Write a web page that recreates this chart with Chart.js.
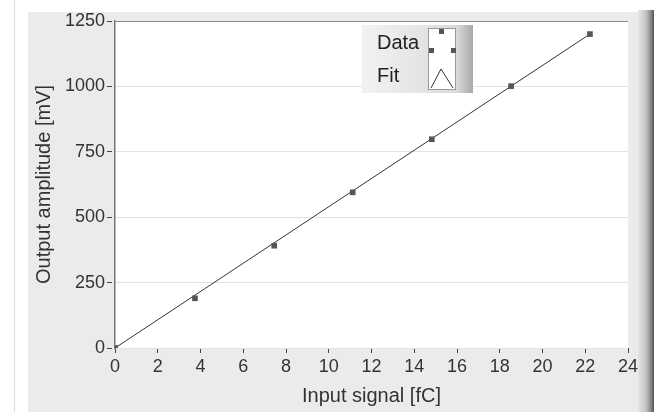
<!DOCTYPE html>
<html>
<head>
<meta charset="utf-8">
<script src="https://cdn.jsdelivr.net/npm/chart.js@4"></script>
<style>
  html, body { margin: 0; padding: 0; background: #fff; }
  #wrap { width: 657px; height: 412px; position: relative; }
</style>
</head>
<body>
<div id="wrap"><canvas id="ampChart" width="657" height="412"></canvas></div>
<script>
// values
const inputSignal = [0, 3.74, 7.45, 11.12, 14.82, 18.53, 22.22];
const outputAmp = [0, 190, 391, 595, 798, 1001, 1200];
const fitX = [0, 22.22];
const fitY = [0, 1200];
const xTicks = [0, 2, 4, 6, 8, 10, 12, 14, 16, 18, 20, 22, 24];
const yTicks = [0, 250, 500, 750, 1000, 1250];

const FONT = "'Liberation Sans', Arial, sans-serif";

// gray panel + 3D frame behind everything
const panelBg = {
  id: 'panelBg',
  beforeDraw(chart) {
    const ctx = chart.ctx;
    const a = chart.chartArea;
    ctx.save();
    ctx.strokeStyle = '#dcdcdc';
    ctx.lineWidth = 1;
    ctx.beginPath(); ctx.moveTo(14.5, 0); ctx.lineTo(14.5, 412); ctx.stroke();
    ctx.fillStyle = '#ebebeb';
    ctx.fillRect(28, 12, 612, 400);
    // right bevel bar
    const g = ctx.createLinearGradient(638, 0, 654, 0);
    g.addColorStop(0, '#e6e6e6');
    g.addColorStop(0.5, '#c4c4c4');
    g.addColorStop(0.8, '#8a8a8a');
    g.addColorStop(1, '#555');
    ctx.fillStyle = g;
    ctx.fillRect(638, 10, 16, 402);
    ctx.fillStyle = '#fff';
    ctx.fillRect(a.left, a.top, a.right - a.left, a.bottom - a.top);
    ctx.restore();
  }
};

// LabVIEW-like legend box
const plotLegend = {
  id: 'plotLegend',
  afterDraw(chart) {
    const ctx = chart.ctx;
    const x = 362, y = 25, w = 111, h = 68;
    ctx.save();
    const bg = ctx.createLinearGradient(x, 0, x + w, 0);
    bg.addColorStop(0, '#f2f2f2');
    bg.addColorStop(0.55, '#e4e4e4');
    bg.addColorStop(0.85, '#dadada');
    bg.addColorStop(1, '#a8a8a8');
    ctx.fillStyle = bg;
    ctx.fillRect(x, y, w, h);
    ctx.fillStyle = '#fff';
    ctx.fillRect(428, 28, 28, 62);
    ctx.strokeStyle = '#999';
    ctx.lineWidth = 1;
    ctx.strokeRect(428.5, 28.5, 27, 61);

    ctx.fillStyle = '#222';
    ctx.font = '20px ' + FONT;
    ctx.textBaseline = 'middle';
    ctx.fillText(chart.data.datasets[0].label, 377, 43);
    ctx.fillText(chart.data.datasets[1].label, 377, 76);

    // data glyph
    ctx.fillStyle = '#555';
    ctx.fillRect(439, 29, 5, 5);
    ctx.fillRect(429, 48, 5, 5);
    ctx.fillRect(451, 48, 5, 5);
    // fit glyph
    ctx.strokeStyle = '#333';
    ctx.beginPath();
    ctx.moveTo(431, 88); ctx.lineTo(441, 69); ctx.lineTo(453, 88);
    ctx.stroke();
    ctx.restore();
  }
};

const chart = new Chart(document.getElementById('ampChart').getContext('2d'), {
  type: 'scatter',
  data: {
    datasets: [
      {
        label: 'Data',
        data: inputSignal.map((v, i) => ({ x: v, y: outputAmp[i] })),
        pointStyle: 'rect',
        pointRadius: 4,
        backgroundColor: '#555',
        borderColor: '#555',
        borderWidth: 0,
        showLine: false,
        order: 1
      },
      {
        label: 'Fit',
        data: fitX.map((v, i) => ({ x: v, y: fitY[i] })),
        showLine: true,
        borderColor: '#333',
        borderWidth: 1,
        pointRadius: 0,
        order: 2
      }
    ]
  },
  options: {
    responsive: false,
    animation: false,
    layout: { padding: { left: 28, top: 21, right: 29, bottom: 0 } },
    plugins: {
      legend: { display: false },
      tooltip: { enabled: false }
    },
    scales: {
      x: {
        type: 'linear',
        min: 0, max: 24,
        afterBuildTicks: s => { s.ticks = xTicks.map(v => ({ value: v })); },
        afterFit: s => { s.height = 64; },
        border: { display: false },
        grid: {
          drawOnChartArea: false,
          drawTicks: true,
          tickLength: 8,
          color: '#444',
          tickBorderDash: [5, 3]
        },
        ticks: {
          color: '#333', font: { size: 18, family: FONT }, padding: 0, maxRotation: 0,
          callback: v => String(v)
        },
        title: { display: true, text: 'Input signal [fC]', color: '#333', font: { size: 20, family: FONT }, padding: { top: 0, bottom: 4 } }
      },
      y: {
        type: 'linear',
        min: 0, max: 1250,
        afterBuildTicks: s => { s.ticks = yTicks.map(v => ({ value: v })); },
        afterFit: s => { s.width = 87; },
        border: { display: true, color: '#777', width: 1.5 },
        grid: {
          color: ctx => (ctx.tick && ctx.tick.value === 1250 ? '#8a8a8a' : '#e2e2e2'),
          tickColor: '#444',
          tickLength: 8,
          tickBorderDash: [5, 3]
        },
        ticks: {
          color: '#333', font: { size: 18, family: FONT }, padding: 2,
          callback: v => String(v)
        },
        title: { display: true, text: 'Output amplitude [mV]', color: '#333', font: { size: 20, family: FONT }, padding: { bottom: 2 } }
      }
    }
  },
  plugins: [panelBg, plotLegend]
});
</script>
</body>
</html>
